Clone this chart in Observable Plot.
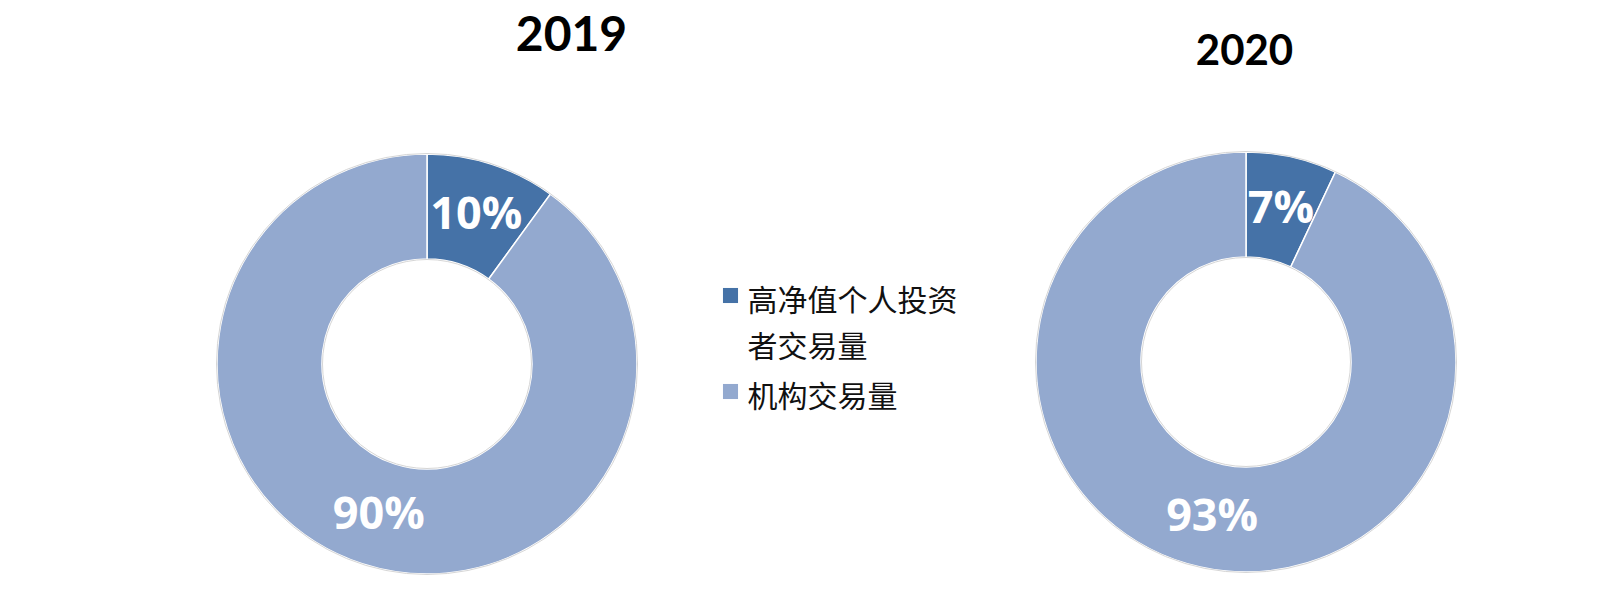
<!DOCTYPE html>
<html><head><meta charset="utf-8">
<script src="https://cdn.jsdelivr.net/npm/d3@7"></script>
<script src="https://cdn.jsdelivr.net/npm/@observablehq/plot@0.6"></script>
<style>body{margin:0;background:#fff}</style>
</head><body><div id="chart"></div>
<script>
// ---- data ----
const years = ["2019", "2020"];
const categories = ["高净值个人投资者交易量", "机构交易量"];
const legendLabels = ["高净值个人投资\n者交易量", "机构交易量"];
const values2019 = [10, 90];
const values2020 = [7, 93];
const colors = ["#4572A7", "#93A9CF"];

// ---- layout ----
const W = 1618, H = 604;
const layout = {
  "2019": {cx: 427, cy: 364, titleX: 571, titleY: 35, titleSize: 48},
  "2020": {cx: 1246, cy: 362, titleX: 1244, titleY: 51, titleSize: 42}
};
const R = 210, r = 105;
const legendX = 730, legendTextX = 747, legendY = [295, 391];

const valuesByYear = {"2019": values2019, "2020": values2020};
const pie = d3.pie().sort(null).value(d => d.value);
const arc = d3.arc().innerRadius(r).outerRadius(R);

const slices = years.flatMap(year => {
  const rows = categories.map((c, i) => ({year, category: c, value: valuesByYear[year][i]}));
  return pie(rows).map(p => {
    const [dx, dy] = arc.centroid(p);
    return {...p.data, arc: p, lx: layout[year].cx + dx, ly: layout[year].cy + dy};
  });
});

const legendRows = categories.map((c, i) => ({category: c, label: legendLabels[i], y: legendY[i]}));

function donuts(index, scales) {
  const g = d3.create("svg:g");
  for (const s of slices) {
    const L = layout[s.year];
    g.append("path")
      .attr("d", arc(s.arc))
      .attr("transform", `translate(${scales.x(L.cx)},${scales.y(L.cy)})`)
      .attr("fill", scales.color(s.category))
      .attr("stroke", "#ffffff")
      .attr("stroke-width", 1.5);
  }
  // faint outer edge
  for (const y of years) {
    const L = layout[y];
    g.append("circle").attr("cx", scales.x(L.cx)).attr("cy", scales.y(L.cy)).attr("r", R + 0.5)
      .attr("fill", "none").attr("stroke", "#d6d6d6").attr("stroke-width", 1);
    g.append("circle").attr("cx", scales.x(L.cx)).attr("cy", scales.y(L.cy)).attr("r", r - 0.5)
      .attr("fill", "none").attr("stroke", "#d6d6d6").attr("stroke-width", 1);
  }
  return g.node();
}

const chart = Plot.plot({
  width: W, height: H,
  margin: 0,
  x: {type: "linear", domain: [0, W], range: [0, W], axis: null},
  y: {type: "linear", domain: [0, H], range: [0, H], axis: null},
  color: {domain: categories, range: colors},
  style: {background: "#fff"},
  marks: [
    donuts,
    Plot.text(slices, {
      x: "lx", y: "ly", text: d => d.value + "%",
      fill: "#ffffff", fontSize: 45, fontWeight: "bold",
      fontFamily: "Open Sans", lineAnchor: "middle"
    }),
    Plot.text(["2019"], {
      x: d => layout[d].titleX, y: d => layout[d].titleY, text: d => d,
      fontSize: layout["2019"].titleSize, fontWeight: "bold", fontFamily: "Lato",
      fill: "#000", lineAnchor: "middle"
    }),
    Plot.text(["2020"], {
      x: d => layout[d].titleX, y: d => layout[d].titleY, text: d => d,
      fontSize: layout["2020"].titleSize, fontWeight: "bold", fontFamily: "Lato",
      fill: "#000", lineAnchor: "middle"
    }),
    Plot.dot(legendRows, {
      x: () => legendX, y: "y", fill: "category", symbol: "square", r: 8.5, stroke: null
    }),
    Plot.text(legendRows, {
      x: () => legendTextX, y: d => d.y - 17, text: "label",
      textAnchor: "start", lineAnchor: "top", lineHeight: 1.53,
      fontSize: 30, fontFamily: "Noto Sans CJK SC", fill: "#111"
    })
  ]
});
document.getElementById("chart").appendChild(chart);
</script>
</body></html>
